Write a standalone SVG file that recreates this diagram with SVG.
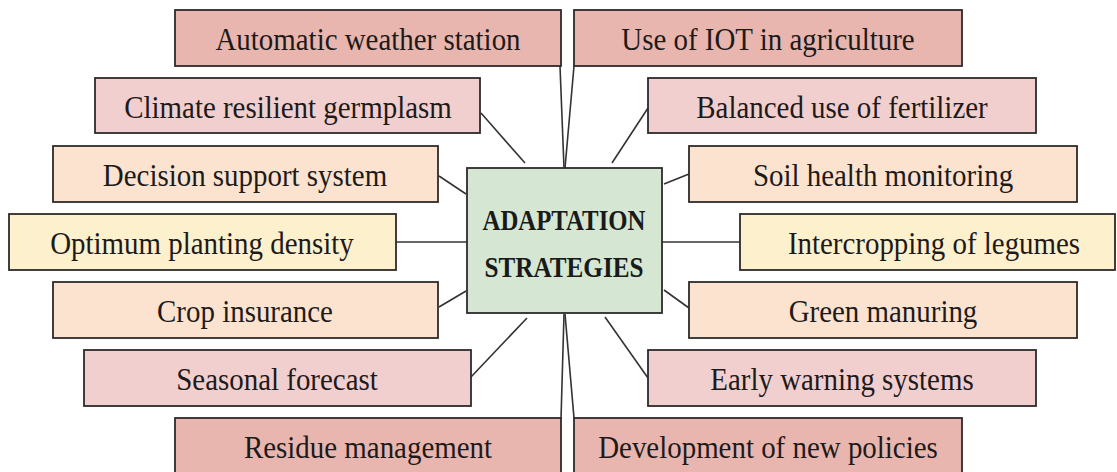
<svg xmlns="http://www.w3.org/2000/svg" width="1117" height="472" viewBox="0 0 1117 472">
<style>
.box{stroke:#2e2a2a;stroke-width:1.8}
.c1{fill:#e8b6af}
.c2{fill:#f2cfcf}
.c3{fill:#fbe3d0}
.c4{fill:#fdf0cd}
.cc{fill:#d5e7d3}
.t{font-family:"Liberation Serif","Times New Roman",serif;font-size:32.5px;fill:#1e1a1a;text-anchor:middle}
.tb{font-family:"Liberation Serif","Times New Roman",serif;font-size:30px;font-weight:bold;fill:#1a1a1a;text-anchor:middle}
.ln{stroke:#333;stroke-width:1.6;fill:none}
</style>
<rect width="1117" height="472" fill="#ffffff"/>
<g id="connectors">
<line class="ln" x1="564" y1="168" x2="560" y2="66"/>
<line class="ln" x1="565" y1="168" x2="574" y2="66"/>
<line class="ln" x1="481" y1="113" x2="525" y2="163"/>
<line class="ln" x1="648" y1="108" x2="612" y2="163"/>
<line class="ln" x1="439" y1="176" x2="466" y2="194"/>
<line class="ln" x1="689" y1="174" x2="664" y2="184"/>
<line class="ln" x1="396" y1="242" x2="467" y2="242"/>
<line class="ln" x1="662" y1="242" x2="740" y2="242"/>
<line class="ln" x1="439" y1="307" x2="466" y2="291"/>
<line class="ln" x1="664" y1="290" x2="689" y2="308"/>
<line class="ln" x1="471" y1="377" x2="527" y2="318"/>
<line class="ln" x1="605" y1="317" x2="648" y2="378"/>
<line class="ln" x1="564" y1="314" x2="561" y2="419"/>
<line class="ln" x1="565" y1="314" x2="574" y2="418"/>
</g>
<g id="center">
<rect class="box cc" x="467" y="168" width="195" height="145"/>
<text class="tb" x="564" y="230" textLength="163" lengthAdjust="spacingAndGlyphs">ADAPTATION</text>
<text class="tb" x="564" y="277" textLength="159" lengthAdjust="spacingAndGlyphs">STRATEGIES</text>
</g>
<g id="automatic-weather-station">
<rect class="box c1" x="175" y="10" width="386" height="56"/>
<text class="t" transform="translate(368 50) scale(0.89 1)">Automatic weather station</text>
</g>
<g id="use-of-iot">
<rect class="box c1" x="574" y="10" width="388" height="56"/>
<text class="t" transform="translate(768 50) scale(0.89 1)">Use of IOT in agriculture</text>
</g>
<g id="climate-resilient-germplasm">
<rect class="box c2" x="95" y="78" width="385" height="55"/>
<text class="t" transform="translate(288 117.5) scale(0.89 1)">Climate resilient germplasm</text>
</g>
<g id="balanced-use-of-fertilizer">
<rect class="box c2" x="648" y="78" width="388" height="55"/>
<text class="t" transform="translate(842 117.5) scale(0.89 1)">Balanced use of fertilizer</text>
</g>
<g id="decision-support-system">
<rect class="box c3" x="53" y="146" width="385" height="56"/>
<text class="t" transform="translate(245 185.5) scale(0.89 1)">Decision support system</text>
</g>
<g id="soil-health-monitoring">
<rect class="box c3" x="689" y="146" width="388" height="56"/>
<text class="t" transform="translate(883 185.5) scale(0.89 1)">Soil health monitoring</text>
</g>
<g id="optimum-planting-density">
<rect class="box c4" x="9" y="214" width="387" height="56"/>
<text class="t" transform="translate(202 253.5) scale(0.89 1)">Optimum planting density</text>
</g>
<g id="intercropping-of-legumes">
<rect class="box c4" x="740" y="214" width="375" height="56"/>
<text class="t" transform="translate(934 253.5) scale(0.89 1)">Intercropping of legumes</text>
</g>
<g id="crop-insurance">
<rect class="box c3" x="53" y="282" width="385" height="56"/>
<text class="t" transform="translate(245 321.5) scale(0.89 1)">Crop insurance</text>
</g>
<g id="green-manuring">
<rect class="box c3" x="689" y="282" width="388" height="56"/>
<text class="t" transform="translate(883 321.5) scale(0.89 1)">Green manuring</text>
</g>
<g id="seasonal-forecast">
<rect class="box c2" x="84" y="350" width="387" height="56"/>
<text class="t" transform="translate(277 389.5) scale(0.89 1)">Seasonal forecast</text>
</g>
<g id="early-warning-systems">
<rect class="box c2" x="648" y="350" width="388" height="56"/>
<text class="t" transform="translate(842 389.5) scale(0.89 1)">Early warning systems</text>
</g>
<g id="residue-management">
<rect class="box c1" x="175" y="418" width="386" height="60"/>
<text class="t" transform="translate(368 457.5) scale(0.89 1)">Residue management</text>
</g>
<g id="development-of-new-policies">
<rect class="box c1" x="574" y="418" width="388" height="60"/>
<text class="t" transform="translate(768 457.5) scale(0.89 1)">Development of new policies</text>
</g>
</svg>
